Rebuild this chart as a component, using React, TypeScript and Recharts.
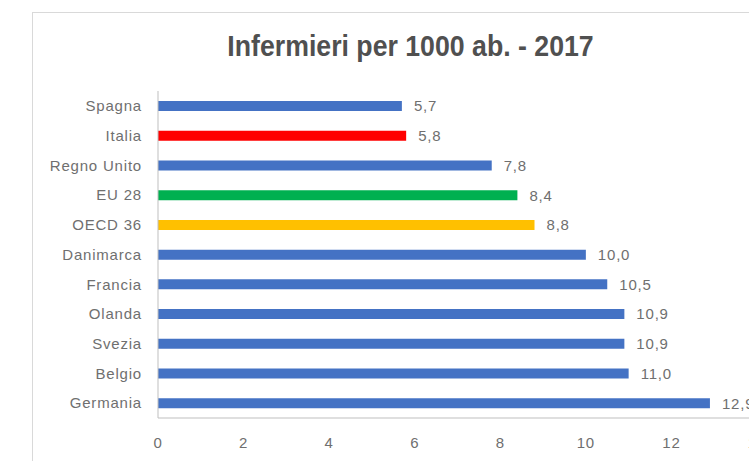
import React from 'react';
import { BarChart, Bar, XAxis, YAxis, LabelList, Cell } from 'recharts';

const categories = ['Spagna', 'Italia', 'Regno Unito', 'EU 28', 'OECD 36', 'Danimarca', 'Francia', 'Olanda', 'Svezia', 'Belgio', 'Germania'];
const values = [5.7, 5.8, 7.8, 8.4, 8.8, 10.0, 10.5, 10.9, 10.9, 11.0, 12.9];
const xTicks = [0, 2, 4, 6, 8, 10, 12, 14];

// highlighted rows: Italia red, EU green, OECD yellow
const barColors = ['#4472C4', '#FF0000', '#4472C4', '#00B050', '#FFC000', '#4472C4', '#4472C4', '#4472C4', '#4472C4', '#4472C4', '#4472C4'];

const data = categories.map((name, i) => ({ name, value: values[i] }));

const font = "'Liberation Sans', Arial, sans-serif";
const textStyle = { fontSize: 15, fill: '#6f6f6f', fontFamily: font, letterSpacing: 0.8 };

export default function App() {
    return (
        <div style={{ position: 'fixed', left: 0, top: 0, width: 749, height: 461, overflow: 'hidden', background: '#fff' }}>
            <div style={{ position: 'absolute', left: 32, top: 12, width: 800, height: 500, border: '1px solid #d9d9d9' }} />
            <div
                style={{
                    position: 'absolute', left: 0, top: 30, width: 821, textAlign: 'center',
                    fontFamily: font, fontSize: 29, fontWeight: 'bold', color: '#505050',
                    lineHeight: '33px', transform: 'scaleX(0.92)', transformOrigin: 'center',
                }}
            >
                Infermieri per 1000 ab. - 2017
            </div>
            <div style={{ position: 'absolute', left: 0, top: 0 }}>
                <BarChart
                    width={800}
                    height={470}
                    data={data}
                    layout="vertical"
                    margin={{ top: 91, right: 43, bottom: 12, left: 0 }}
                >
                    <XAxis
                        type="number"
                        domain={[0, 14]}
                        ticks={xTicks}
                        height={40}
                        axisLine={{ stroke: '#bfbfbf' }}
                        tickLine={false}
                        tickMargin={13}
                        tick={textStyle}
                    />
                    <YAxis
                        type="category"
                        dataKey="name"
                        width={158}
                        axisLine={{ stroke: '#bfbfbf' }}
                        tickLine={false}
                        tickMargin={10}
                        tick={textStyle}
                        interval={0}
                    />
                    <Bar dataKey="value" barSize={10} isAnimationActive={false}>
                        {data.map((d, i) => (
                            <Cell key={d.name} fill={barColors[i]} />
                        ))}
                        <LabelList
                            dataKey="value"
                            position="right"
                            offset={12}
                            formatter={(v: any) => Number(v).toFixed(1).replace('.', ',')}
                            style={textStyle}
                        />
                    </Bar>
                </BarChart>
            </div>
        </div>
    );
}
